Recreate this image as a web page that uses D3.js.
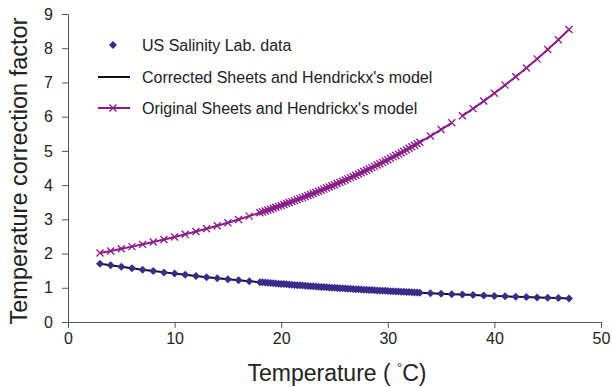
<html>
<head>
<style>
body { margin: 0; padding: 0; background: #fff; }
svg { display: block; }
text { font-family: "Liberation Sans", Arial, Helvetica, sans-serif; fill: #222; }
.axis path, .axis line { stroke: #555; stroke-width: 1; }
.axis text { font-size: 16px; fill: #222; }
</style>
<script src="https://cdnjs.cloudflare.com/ajax/libs/d3/7.8.5/d3.min.js"></script>
</head>
<body>
<svg id="chart" width="612" height="387"></svg>

<script>
var width = 612, height = 387

// temperatures (degC) of the US Salinity Lab. table
var temps = [3,4,5,6,7,8,9,10,11,12,13,14,15,16,17,
  18,18.25,18.5,18.75,19,19.25,19.5,19.75,20,20.25,20.5,20.75,21,21.25,21.5,21.75,
  22,22.25,22.5,22.75,23,23.25,23.5,23.75,24,24.25,24.5,24.75,25,25.25,25.5,25.75,
  26,26.25,26.5,26.75,27,27.25,27.5,27.75,28,28.25,28.5,28.75,29,29.25,29.5,29.75,
  30,30.25,30.5,30.75,31,31.25,31.5,31.75,32,32.25,32.5,32.75,33,
  34,35,36,37,38,39,40,41,42,43,44,45,46,47]

var usslData = [1.702,1.656,1.612,1.569,1.528,1.488,1.450,1.414,1.378,1.344,1.311,1.280,1.249,1.220,1.192,
  1.164,1.158,1.151,1.145,1.138,1.132,1.125,1.119,1.113,1.107,1.100,1.094,1.088,1.082,1.077,1.071,
  1.065,1.059,1.053,1.048,1.042,1.037,1.031,1.026,1.020,1.015,1.010,1.004,0.999,0.994,0.989,0.984,
  0.979,0.974,0.969,0.965,0.960,0.955,0.950,0.946,0.941,0.937,0.932,0.928,0.923,0.919,0.914,0.910,
  0.906,0.902,0.897,0.893,0.889,0.885,0.881,0.877,0.873,0.869,0.865,0.861,0.857,
  0.842,0.828,0.814,0.800,0.787,0.775,0.763,0.751,0.740,0.729,0.719,0.709,0.699,0.690]

var originalModel = [2.017,2.076,2.138,2.202,2.269,2.338,2.410,2.485,2.562,2.643,2.726,2.813,2.902,2.996,3.093,
  3.193,3.219,3.245,3.271,3.297,3.324,3.351,3.378,3.406,3.434,3.462,3.490,3.518,3.547,3.576,3.605,
  3.635,3.665,3.695,3.725,3.756,3.787,3.819,3.850,3.882,3.914,3.947,3.979,4.012,4.046,4.080,4.114,
  4.148,4.183,4.218,4.253,4.288,4.325,4.361,4.397,4.434,4.472,4.510,4.548,4.586,4.625,4.664,4.704,
  4.743,4.784,4.825,4.865,4.906,4.948,4.991,5.033,5.076,5.120,5.164,5.208,5.252,
  5.434,5.624,5.820,6.025,6.236,6.456,6.685,6.922,7.168,7.423,7.688,7.963,8.249,8.546]

// the original curve has a break after this temperature
var originalBreak = 36

// corrected model, integer temperatures
var modelTemps = [3,4,5,6,7,8,9,10,11,12,13,14,15,16,17,18,19,20,21,22,23,24,25,
  26,27,28,29,30,31,32,33,34,35,36,37,38,39,40,41,42,43,44,45,46,47]
var correctedModel = [1.702,1.656,1.612,1.569,1.528,1.488,1.450,1.414,1.378,1.344,1.311,1.280,1.249,1.220,1.192,
  1.164,1.138,1.113,1.088,1.065,1.042,1.020,0.999,0.979,0.960,0.941,0.923,0.906,0.889,0.873,0.857,
  0.842,0.828,0.814,0.800,0.787,0.775,0.763,0.751,0.740,0.729,0.719,0.709,0.699,0.690]

var xTicks = [0,10,20,30,40,50]
var yTicks = [0,1,2,3,4,5,6,7,8,9]
var legendLabels = ["US Salinity Lab. data", "Corrected Sheets and Hendrickx's model", "Original Sheets and Hendrickx's model"]

var purple = "#8c1a8a", indigo = "#3b2a8c"

var x = d3.scaleLinear().domain([0, 50]).range([68, 601])
var y = d3.scaleLinear().domain([0, 9]).range([322, 14])

var svg = d3.select('#chart')

svg.append('g')
  .attr('class', 'axis')
  .attr('transform', 'translate(0,' + y(0) + ')')
  .call(d3.axisBottom(x).tickValues(xTicks).tickSize(6).tickSizeOuter(0).tickPadding(5))

svg.append('g')
  .attr('class', 'axis')
  .attr('transform', 'translate(' + x(0) + ',0)')
  .call(d3.axisLeft(y).tickValues(yTicks).tickSize(6).tickSizeOuter(0).tickPadding(9))

svg.selectAll('.axis .domain').attr('stroke', '#555')

// axis titles
svg.append('text')
  .attr('x', 337).attr('y', 381)
  .attr('text-anchor', 'middle')
  .style('font-size', '23px')
  .call(function(t) {
    t.append('tspan').text('Temperature ( ')
    t.append('tspan').attr('dy', -9).style('font-size', '13px').text('\u00b0')
    t.append('tspan').attr('dy', 9).text('C)')
  })

svg.append('text')
  .attr('transform', 'translate(27,171) rotate(-90)')
  .attr('text-anchor', 'middle')
  .style('font-size', '23.5px')
  .text('Temperature correction factor')

var line = d3.line()
  .x(function(d) { return x(d[0]) })
  .y(function(d) { return y(d[1]) })

// original model (purple, with crosses)
var orig = temps.map(function(t, i) { return [t, originalModel[i]] })
var origParts = [orig.filter(function(d) { return d[0] <= originalBreak }),
                 orig.filter(function(d) { return d[0] > originalBreak })]

svg.append('g').selectAll('path')
  .data(origParts)
  .join('path')
  .attr('d', line)
  .attr('fill', 'none')
  .attr('stroke', purple)
  .attr('stroke-width', 2)

var crossPath = 'M-3.5,-3.5L3.5,3.5M-3.5,3.5L3.5,-3.5'

svg.append('g').selectAll('path')
  .data(orig)
  .join('path')
  .attr('d', crossPath)
  .attr('transform', function(d) { return 'translate(' + x(d[0]) + ',' + y(d[1]) + ')' })
  .attr('stroke', purple)
  .attr('stroke-width', 1.3)
  .attr('fill', 'none')

// corrected model (black line)
svg.append('path')
  .datum(modelTemps.map(function(t, i) { return [t, correctedModel[i]] }))
  .attr('d', line)
  .attr('fill', 'none')
  .attr('stroke', '#111')
  .attr('stroke-width', 2)

// US Salinity Lab data (diamonds)
var diamond = 'M0,-4L4,0L0,4L-4,0Z'
svg.append('g').selectAll('path')
  .data(temps.map(function(t, i) { return [t, usslData[i]] }))
  .join('path')
  .attr('d', diamond)
  .attr('transform', function(d) { return 'translate(' + x(d[0]) + ',' + y(d[1]) + ')' })
  .attr('fill', indigo)

// legend
var lg = svg.append('g')
var rows = [45, 77, 108]
lg.append('path').attr('d', diamond).attr('fill', indigo)
  .attr('transform', 'translate(113,' + rows[0] + ')')
lg.append('line').attr('x1', 98).attr('x2', 130).attr('y1', rows[1]).attr('y2', rows[1])
  .attr('stroke', '#111').attr('stroke-width', 2)
lg.append('line').attr('x1', 98).attr('x2', 130).attr('y1', rows[2]).attr('y2', rows[2])
  .attr('stroke', purple).attr('stroke-width', 2)
lg.append('path').attr('d', crossPath).attr('stroke', purple).attr('stroke-width', 1.3)
  .attr('transform', 'translate(113,' + rows[2] + ')')

lg.selectAll('text')
  .data(legendLabels)
  .join('text')
  .attr('x', 142)
  .attr('y', function(d, i) { return rows[i] + 6 })
  .style('font-size', '16px')
  .text(function(d) { return d })
</script>
</body>
</html>
